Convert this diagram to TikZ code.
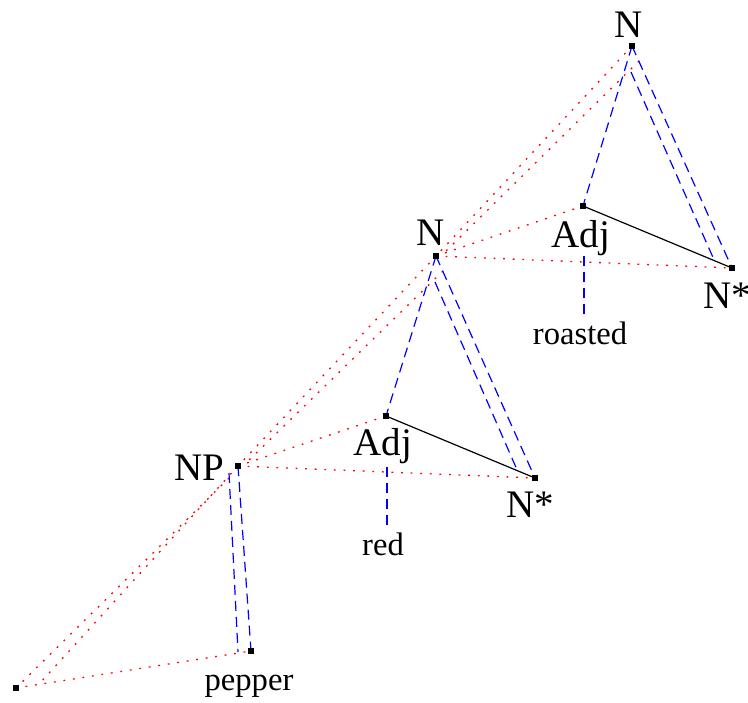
\documentclass[tikz,border=0pt]{standalone}
\usepackage{fontspec}
\setmainfont{Liberation Serif}
\usetikzlibrary{calc}
\begin{document}
\begin{tikzpicture}[x=0.5pt,y=-0.5pt,
  sqmark/.style={fill=black,inner sep=0pt,minimum size=2.8pt},
  lab/.style={inner sep=0pt,anchor=base,font=\fontsize{19.5}{21}\selectfont},
  leaf/.style={inner sep=0pt,anchor=base,font=\fontsize{16.3}{18}\selectfont},
  reddot/.style={red,line width=0.65pt,dash pattern=on 0.9pt off 3.9pt},
  bluedash/.style={blue,line width=0.6pt,dash pattern=on 5pt off 3pt},
  solidlink/.style={black,line width=0.6pt}]
\useasboundingbox (0,0) rectangle (748,702);
% tree points
\coordinate (nt) at (632,46);
\coordinate (at) at (583,206);
\coordinate (st) at (732,268);
\coordinate (nm) at (436,256);
\coordinate (am) at (386,416);
\coordinate (sm) at (535,478);
\coordinate (np) at (238,466);
\coordinate (pp) at (251,651);
\coordinate (bl) at (16,688);
% labels
\node[lab] (ntl) at (629,37) {N};
\node[lab] (nml) at (431,245) {N};
\node[lab] (atl) at (581,247) {Adj};
\node[lab] (stl) at (727,308) {N*};
\node[leaf] (rs) at (580,344) {roasted};
\node[lab] (aml) at (383,455) {Adj};
\node[lab] (sml) at (530,517) {N*};
\node[leaf] (rd) at (383,555) {red};
\node[lab] (npl) at (199,480) {NP};
\node[leaf] (pe) at (249,690) {pepper};
% red dotted links
\draw[reddot] (nt) -- (nm);
\draw[reddot] ($(nt)+(7,15)$) -- ($(nm)+(9,-4)$);
\draw[reddot] (nm) -- (at);
\draw[reddot] (nm) -- (st);
\draw[reddot] (nm) -- (np);
\draw[reddot] ($(nm)+(7,15)$) -- ($(np)+(9,-4)$);
\draw[reddot] (np) -- (am);
\draw[reddot] (np) -- (sm);
\draw[reddot] ($(np)+(-9,12)$) -- (bl);
\draw[reddot] (np) -- ($(bl)+(24,-5)$);
\draw[reddot] (bl) -- (pp);
% blue dashed links
\draw[bluedash] (nt) -- (at);
\draw[bluedash] (nt) -- (st);
\draw[bluedash] ($(nt)+(-1,26)$) -- ($(st)+(-17,-6)$);
\draw[bluedash] (nm) -- (am);
\draw[bluedash] (nm) -- (sm);
\draw[bluedash] ($(nm)+(-1,26)$) -- ($(sm)+(-17,-6)$);
\draw[bluedash] (np) -- (pp);
\draw[bluedash] ($(np)+(-9,7)$) -- ($(pp)+(-13,1)$);
\draw[bluedash,shorten >=2.5pt] ($(at |- atl.south)+(1,0)$) -- ($(at |- rs.north)+(1,0)$);
\draw[bluedash,shorten <=1.5pt,shorten >=3pt] ($(am |- aml.south)+(1,0)$) -- ($(am |- rd.north)+(1,0)$);
% solid links
\draw[solidlink] (at) -- (st);
\draw[solidlink] (am) -- (sm);
% point marks
\foreach \p in {nt,at,st,nm,am,sm,np,pp,bl} \node[sqmark] at (\p) {};
\end{tikzpicture}
\end{document}
